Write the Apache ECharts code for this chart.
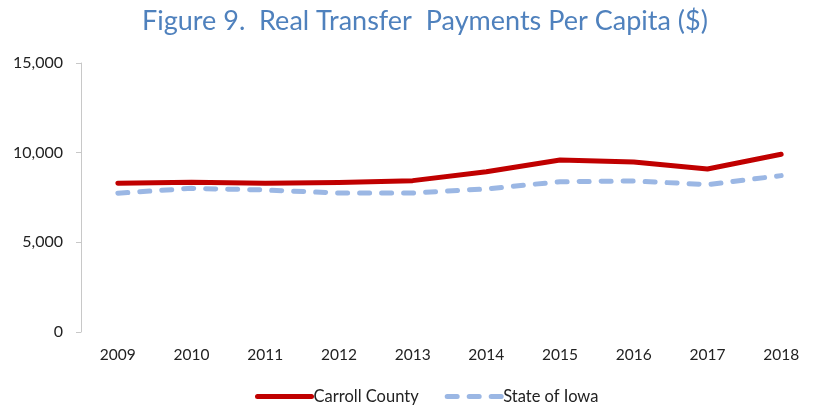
<!DOCTYPE html>
<html><head><meta charset="utf-8">
<script src="https://cdn.jsdelivr.net/npm/echarts@6/dist/echarts.min.js"></script>
<style>html,body{margin:0;padding:0;background:#fff}#c{width:818px;height:406px}</style>
</head><body><div id="c"></div>
<script>
var years = ['2009','2010','2011','2012','2013','2014','2015','2016','2017','2018'];
var carrollCounty = [8290, 8350, 8290, 8330, 8440, 8940, 9590, 9480, 9090, 9910];
var stateOfIowa = [7740, 8010, 7920, 7750, 7750, 7980, 8380, 8420, 8220, 8720];
var yTicks = [0, 5000, 10000, 15000];

var chart = echarts.init(document.getElementById('c'), null, {renderer:'canvas'});
var font = 'Lato, "Open Sans", sans-serif';
chart.setOption({
  animation: false,
  title: {
    text: 'Figure 9.  Real Transfer  Payments Per Capita ($)',
    left: 137, top: 3,
    textStyle: {color: '#4f81bd', fontSize: 27, fontWeight: 'normal', fontFamily: font}
  },
  legend: {
    top: 383, left: 250, itemWidth: 54, itemHeight: 12, itemGap: 26,
    textStyle: {fontSize: 16.5, color: '#222', fontFamily: font, padding: [0,0,0,-3]},
    itemStyle: {opacity: 0},
    data: [
      {name: 'Carroll County', lineStyle: {width: 5, color: '#c00000', cap: 'round'}},
      {name: 'State of Iowa', lineStyle: {width: 5, color: '#9bb7e4', type: [10, 12], cap: 'round'}}
    ]
  },
  grid: {left: 81, top: 63, width: 747, height: 269, containLabel: false},
  xAxis: {
    type: 'category', data: years, boundaryGap: true,
    axisLine: {show: false}, axisTick: {show: false},
    axisLabel: {fontSize: 15.5, color: '#222', margin: 15, fontFamily: font}
  },
  yAxis: {
    type: 'value', min: 0, max: 15000, interval: 5000,
    axisLine: {show: true, lineStyle: {color: '#c8c8c8', width: 1}},
    axisTick: {show: true, inside: false, length: 5, lineStyle: {color: '#c8c8c8'}},
    splitLine: {show: false},
    axisLabel: {fontSize: 16, color: '#222', margin: 18, fontFamily: font,
      formatter: function(v){ return yTicks.indexOf(v) >= 0 ? v.toLocaleString('en-US') : ''; }}
  },
  series: [
    {name: 'Carroll County', type: 'line', data: carrollCounty, symbol: 'none',
     lineStyle: {color: '#c00000', width: 5, cap: 'round', join: 'round'}, itemStyle: {color: '#c00000'}},
    {name: 'State of Iowa', type: 'line', data: stateOfIowa, symbol: 'none',
     lineStyle: {color: '#9bb7e4', width: 5, type: [10, 12], cap: 'round', join: 'round'}, itemStyle: {color: '#9bb7e4'}}
  ]
});
</script></body></html>
